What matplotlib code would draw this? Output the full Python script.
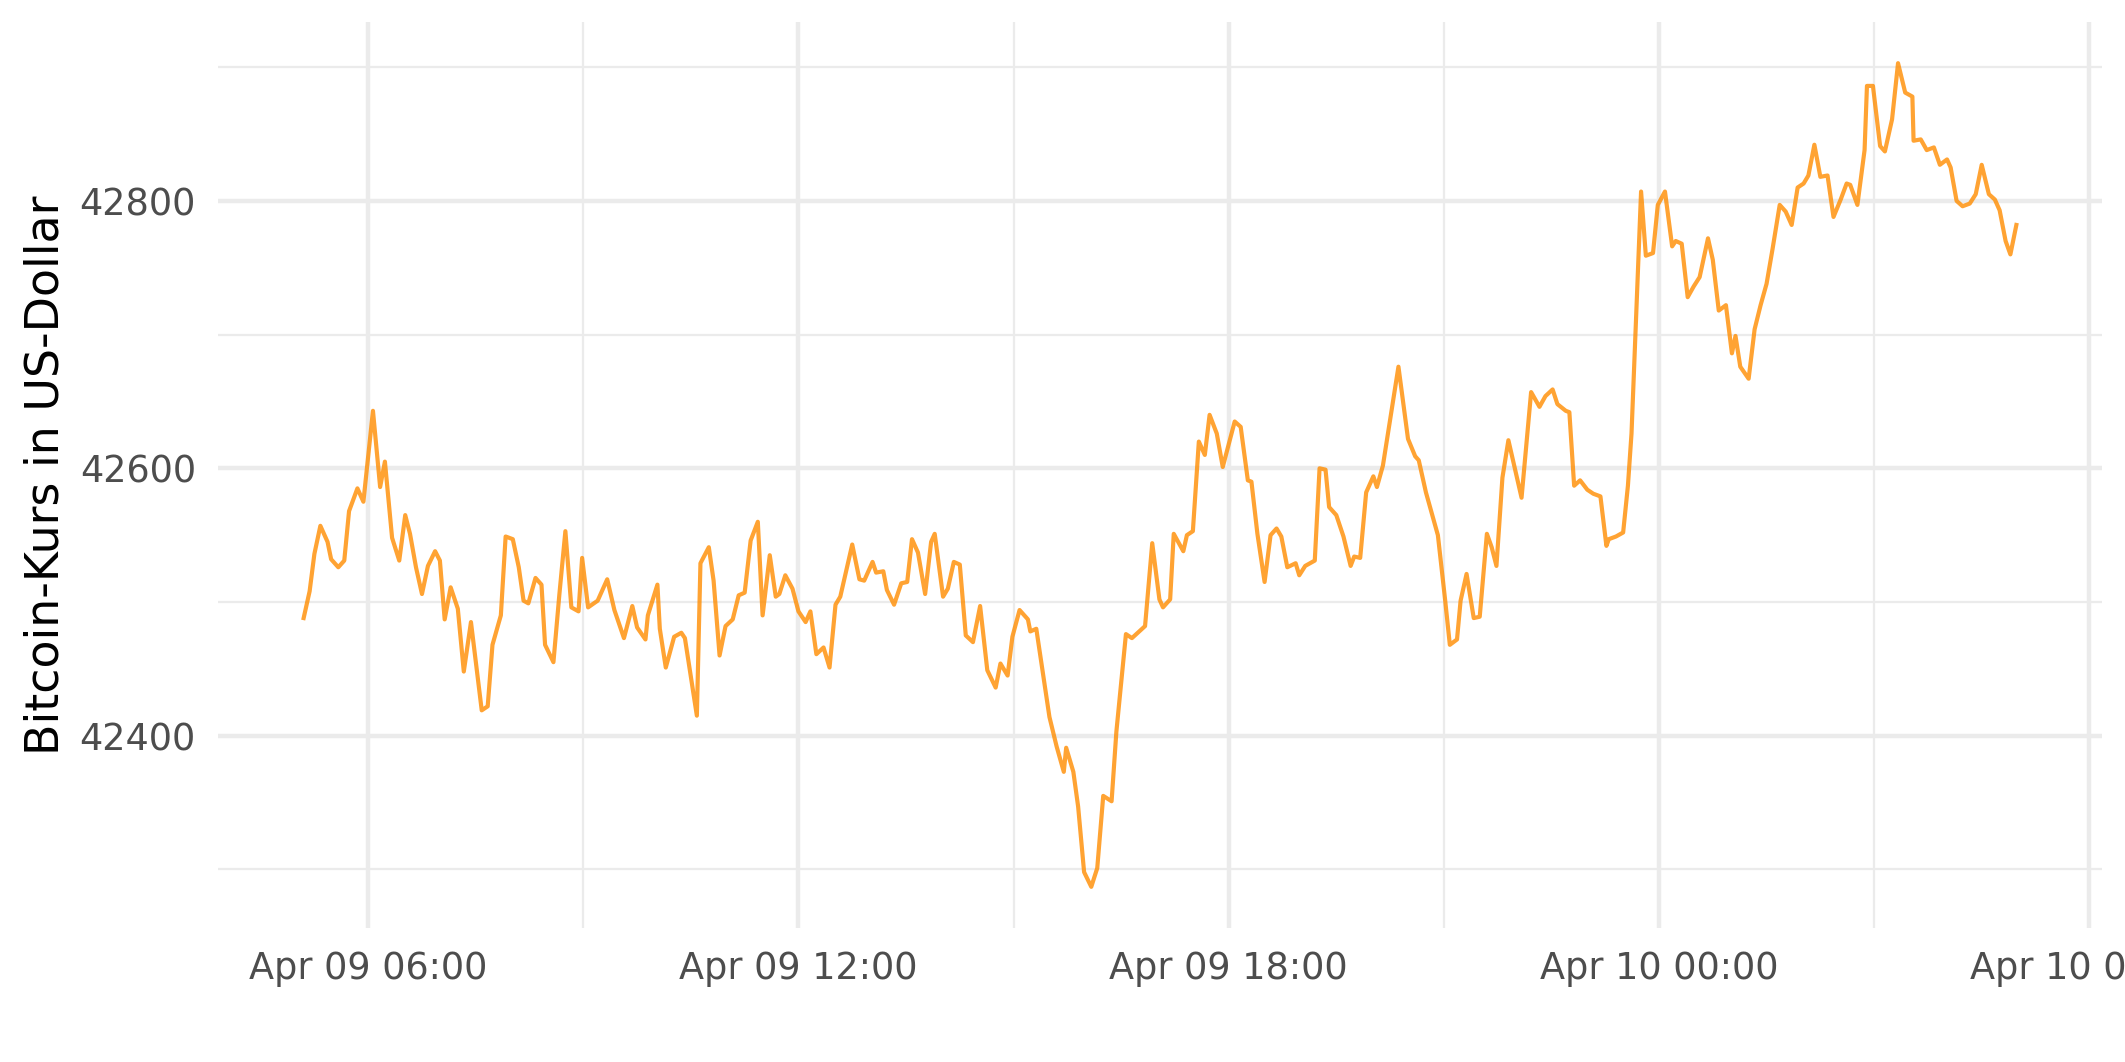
"""Bitcoin price over one day, drawn in a ggplot-like minimal style."""

import matplotlib
matplotlib.use("Agg")
import matplotlib.pyplot as plt
import matplotlib.dates as mdates
from matplotlib.ticker import MultipleLocator
import pandas as pd

# Minutes after 2022-04-09 00:00 for each observation
minutes = [
    306, 311, 315, 320, 326, 329, 335, 340, 344, 351, 356, 364, 370, 374, 380,
    386, 391, 395, 400, 405, 410, 416, 420, 424, 429, 435, 440, 446, 455, 460,
    464, 471, 475, 481, 486, 490, 494, 500, 505, 508, 515, 520, 525, 530, 536,
    539, 544, 552, 560,
    566, 574, 581, 585, 592, 594, 602, 604, 609, 616, 622, 625, 635, 638, 645,
    649, 654, 659, 665, 670, 675, 680, 686, 690, 696, 701, 704, 709, 715, 720,
    726, 730, 735, 741, 746, 751, 755, 765, 771, 775, 782, 785, 791, 794, 800,
    806, 811, 815, 820,
    826, 831, 834, 841, 845, 850, 855, 860, 866, 872, 878, 885, 889, 895, 899,
    905, 912, 914, 919, 930, 936, 942, 944, 950, 954, 959, 965, 970, 975, 982,
    986, 994, 999, 1010, 1016, 1022, 1025, 1031, 1034, 1042, 1045, 1050, 1055,
    1060, 1064, 1070, 1075,
    1085, 1090, 1096, 1099, 1104, 1110, 1115, 1120, 1124, 1129, 1136, 1139,
    1144, 1152, 1156, 1161, 1164, 1170, 1176, 1182, 1185, 1190, 1195, 1201,
    1204, 1209, 1215, 1222, 1230, 1236, 1239, 1245, 1255, 1261, 1265, 1271,
    1274, 1279, 1285, 1290, 1296, 1300, 1304, 1309, 1314, 1325, 1333, 1340,
    1345, 1351, 1355, 1362, 1365, 1369, 1374, 1380, 1385, 1391, 1396, 1398,
    1404, 1410, 1414, 1417, 1425, 1429, 1435, 1439, 1445, 1451, 1454, 1459,
    1464, 1469, 1474, 1481, 1485, 1490, 1496, 1501, 1504, 1508, 1515, 1520,
    1525, 1530, 1535, 1541, 1546, 1551, 1556, 1561, 1565, 1570, 1575, 1581,
    1586, 1592, 1597, 1600, 1606, 1612, 1614, 1619, 1625, 1629, 1635, 1640,
    1646, 1652, 1653, 1659, 1664, 1670, 1675, 1681, 1684, 1689, 1694, 1700,
    1705, 1710, 1716, 1721, 1725, 1730, 1734, 1739,
]

# Price in US dollars at each of those times
prices = [
    42488, 42508, 42536, 42557, 42545, 42532, 42526, 42531, 42568, 42585,
    42575, 42643, 42586, 42605, 42548, 42531, 42565, 42551, 42526, 42506,
    42527, 42538, 42531, 42487, 42511, 42495, 42448, 42485, 42419, 42422,
    42468, 42490, 42549, 42547, 42526, 42501, 42499, 42518, 42513, 42468,
    42455, 42506, 42553, 42496, 42493, 42533, 42496, 42501, 42517,
    42494, 42473, 42497, 42481, 42472, 42490, 42513, 42480, 42451, 42474,
    42477, 42473, 42415, 42529, 42541, 42516, 42460, 42482, 42487, 42505,
    42507, 42546, 42560, 42490, 42535, 42504, 42506, 42520, 42510, 42493,
    42485, 42493, 42461, 42466, 42451, 42498, 42504, 42543, 42517, 42516,
    42530, 42522, 42523, 42509, 42498, 42514, 42515, 42547, 42537,
    42506, 42545, 42551, 42504, 42510, 42530, 42528, 42475, 42470, 42497,
    42449, 42436, 42454, 42445, 42474, 42494, 42487, 42478, 42480, 42414,
    42392, 42373, 42391, 42373, 42347, 42298, 42287, 42301, 42355, 42351,
    42403, 42476, 42473, 42482, 42544, 42502, 42496, 42502, 42551, 42538,
    42550, 42553, 42620, 42610, 42640, 42626, 42601,
    42635, 42631, 42591, 42590, 42551, 42515, 42550, 42555, 42549, 42526,
    42529, 42520, 42527, 42531, 42600, 42599, 42571, 42565, 42549, 42527,
    42534, 42533, 42582, 42594, 42586, 42602, 42636, 42676, 42622, 42609,
    42606, 42582, 42550, 42502, 42468, 42472, 42501, 42521, 42488, 42489,
    42551, 42541, 42527, 42593, 42621, 42578, 42657, 42646, 42654, 42659,
    42648, 42643, 42642, 42587, 42591, 42584, 42581, 42579, 42542, 42547,
    42549, 42552, 42587, 42626, 42807, 42759, 42761, 42797, 42807, 42766,
    42770, 42768, 42728, 42736, 42743, 42772, 42756, 42718, 42722, 42686,
    42699, 42676, 42667, 42704, 42722, 42738, 42764, 42797, 42792, 42782,
    42810, 42813, 42819, 42842, 42818, 42819, 42788, 42801, 42813, 42812,
    42797, 42838, 42886, 42886, 42841, 42837, 42861, 42903, 42881, 42878,
    42845, 42846, 42838, 42840, 42827, 42831, 42825, 42800, 42796, 42798,
    42805, 42827, 42805, 42801, 42793, 42770, 42760, 42782,
]

y_label = "Bitcoin-Kurs in US-Dollar"

times = pd.Timestamp("2022-04-09") + pd.to_timedelta(minutes, unit="min")

plt.rcParams["font.family"] = ["DejaVu Sans"]

fig = plt.figure(figsize=(2125 / 300, 1062 / 300), dpi=300)
ax = fig.add_axes([218 / 2125, 1 - 928 / 1062, (2102 - 218) / 2125, (928 - 22) / 1062])

ax.plot(times, prices, color="#FF8C00", alpha=0.8, linewidth=1.0, zorder=3)
ax.margins(x=0.05, y=0.05)

# Axis ticks: major every 6 hours / 200 USD, minor in between
ax.xaxis.set_major_locator(mdates.HourLocator(byhour=[0, 6, 12, 18]))
ax.xaxis.set_minor_locator(mdates.HourLocator(byhour=[3, 9, 15, 21]))
ax.xaxis.set_major_formatter(mdates.DateFormatter("%b %d %H:%M"))
ax.yaxis.set_major_locator(MultipleLocator(200))
ax.yaxis.set_minor_locator(MultipleLocator(100))

ax.grid(which="major", color="#EBEBEB", linewidth=1.07)
ax.grid(which="minor", color="#EBEBEB", linewidth=0.53)
ax.set_axisbelow(True)
for s in ax.spines.values():
    s.set_visible(False)

ax.tick_params(which="both", length=0)
ax.tick_params(axis="both", labelsize=8.8, labelcolor="#4D4D4D", pad=5.3)
ax.set_ylabel(y_label, fontsize=11, color="black", labelpad=2.7)

fig.savefig("out.png", dpi=300, facecolor="white")
